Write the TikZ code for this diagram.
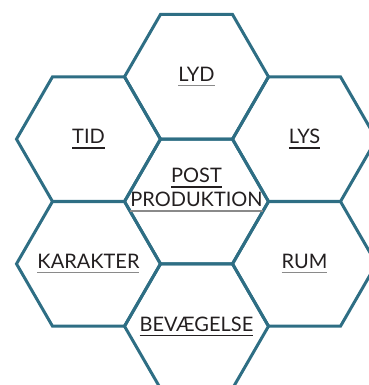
\documentclass[tikz,border=0pt]{standalone}
\usepackage{fontspec}
\setmainfont{Lato}
\usetikzlibrary{shapes.geometric}
\usetikzlibrary{positioning}
\definecolor{hexblue}{HTML}{2E6E84}
\definecolor{labelgray}{HTML}{231F20}
\definecolor{linegray}{HTML}{8A8A8A}

% underlined label, colour of the line optional
\newcommand{\hexul}[2][labelgray]{%
  \setbox0\hbox{#2}\rlap{\color{#1}\rule[-4.8pt]{\wd0}{1.3pt}}\box0}

\begin{document}
\begin{tikzpicture}[
		node distance=62.35pt and 108pt, on grid,
		hexa/.style={regular polygon, regular polygon sides=6, minimum size=144pt,
			inner sep=0pt, outer sep=0pt, draw=hexblue, line width=3pt},
		hexlabel/.style={text=labelgray, font=\fontsize{20}{24}\selectfont, align=center, inner sep=0pt}
	]
		\useasboundingbox (-196.5pt,-183.5pt) rectangle (171.5pt,201.5pt);
		
		% Define hexagons
		\node[hexa] (post) {};
		\node[hexa, above=124.7pt of post] (lyd) {};
		\node[hexa, above left=of post] (tid) {};
		\node[hexa, above right=of post] (lys) {};
		\node[hexa, below left=of post] (karakter) {};
		\node[hexa, below right=of post] (rum) {};
		\node[hexa, below=124.7pt of post] (bevaegelse) {};
		
		% Labels
		\node[hexlabel] (lyd-text) at (lyd) {\hexul[linegray]{LYD}};
		\node[hexlabel] (tid-text) at (tid) {\hexul{TID}};
		\node[hexlabel] (lys-text) at (lys) {\hexul{LYS}};
		\node[hexlabel] (post-text) at ([yshift=11.5pt]post.center) {\hexul{POST}\\\hexul[linegray]{PRODUKTION}};
		\node[hexlabel] (karakter-text) at (karakter) {\hexul[linegray]{KARAKTER}};
		\node[hexlabel] (rum-text) at (rum) {\hexul[linegray]{RUM}};
		\node[hexlabel] (bevaegelse-text) at (bevaegelse) {\hexul{BEVÆGELSE}};
	\end{tikzpicture}
\end{document}
